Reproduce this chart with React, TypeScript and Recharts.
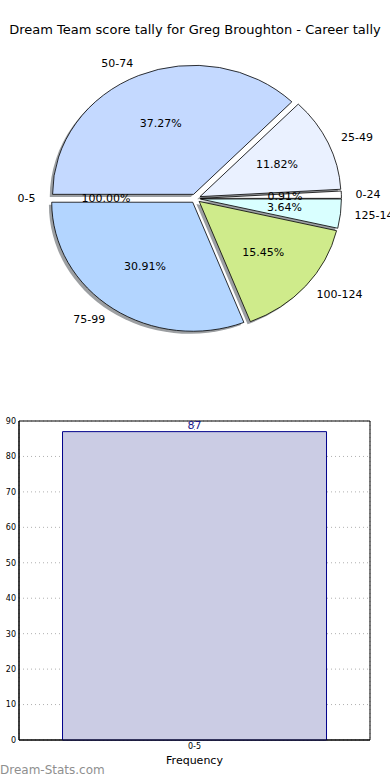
import React from "react"
import {
  PieChart,
  Pie,
  Sector,
  BarChart,
  Bar,
  XAxis,
  YAxis,
  CartesianGrid,
  LabelList,
  ReferenceArea,
} from "recharts"

const TITLE = "Dream Team score tally for Greg Broughton - Career tally"

// pie slices, counter-clockwise from 9 o'clock
const pieLabels = ["0-5", "75-99", "100-124", "125-149", "0-24", "25-49", "50-74"]
const pieCounts = [0, 34, 17, 4, 1, 13, 41]
const pieText = ["100.00%", "30.91%", "15.45%", "3.64%", "0.91%", "11.82%", "37.27%"]
const pieColors = ["#ffffff", "#b3d5ff", "#cfeb8b", "#d9ffff", "#ffffff", "#eaf1ff", "#c4d9ff"]

// frequency histogram
const barCategories = ["0-5"]
const barValues = [87]
const yTicks = [0, 10, 20, 30, 40, 50, 60, 70, 80, 90]

const FONT = "'DejaVu Sans', sans-serif"
const R = 141
const SQUASH = 0.915 // matplotlib pie without equal aspect -> ellipse
const EXPLODE = 0.035
const RAD = Math.PI / 180

const pieData = pieLabels.map((name, i) => ({ name, value: pieCounts[i] }))
const barData = barCategories.map((category, i) => ({ category, freq: barValues[i] }))

function polar(angle: number, k: number) {
  return { x: k * R * Math.cos(-angle * RAD), y: k * R * Math.sin(-angle * RAD) }
}

function squash(cy: number) {
  return `translate(0 ${cy * (1 - SQUASH)}) scale(1 ${SQUASH})`
}

function renderShadow(p: any) {
  if (p.endAngle === p.startAngle) return <g />
  const mid = (p.startAngle + p.endAngle) / 2
  const o = polar(mid, EXPLODE)
  return (
    <g transform={squash(p.cy)}>
      <Sector
        cx={p.cx + o.x - 2.8}
        cy={p.cy + o.y + 2.8}
        innerRadius={0}
        outerRadius={R}
        startAngle={p.startAngle}
        endAngle={p.endAngle}
        fill="#3a3f46"
        fillOpacity={0.5}
        stroke="none"
      />
    </g>
  )
}

function renderWedge(p: any) {
  if (p.endAngle === p.startAngle) return <g />
  const mid = (p.startAngle + p.endAngle) / 2
  const o = polar(mid, EXPLODE)
  return (
    <g transform={squash(p.cy)}>
      <Sector
        cx={p.cx + o.x}
        cy={p.cy + o.y}
        innerRadius={0}
        outerRadius={R}
        startAngle={p.startAngle}
        endAngle={p.endAngle}
        fill={pieColors[p.index]}
        stroke="#000"
        strokeWidth={0.8}
        vectorEffect="non-scaling-stroke"
      />
    </g>
  )
}

function renderText(p: any) {
  const i = p.index
  const mid = (p.startAngle + p.endAngle) / 2
  const o = polar(mid, EXPLODE)
  const l = polar(mid, 1.1)
  const q = polar(mid, 0.6)
  const toY = (dy: number) => p.cy + SQUASH * dy
  return (
    <g fontFamily={FONT} fontSize={11} fill="#000">
      <text
        x={p.cx + o.x + l.x}
        y={toY(o.y + l.y)}
        textAnchor={Math.cos(-mid * RAD) < 0 ? "end" : "start"}
        dominantBaseline="central"
      >
        {pieLabels[i]}
      </text>
      <text x={p.cx + o.x + q.x} y={toY(o.y + q.y)} textAnchor="middle" dominantBaseline="central">
        {pieText[i]}
      </text>
    </g>
  )
}

function ScorePie() {
  const common = {
    data: pieData,
    dataKey: "value",
    nameKey: "name",
    cx: 190.5,
    cy: 193.5,
    outerRadius: R,
    startAngle: 180,
    endAngle: 540,
    fill: "none",
    stroke: "none",
    labelLine: false,
    isAnimationActive: false,
  }
  return (
    <PieChart width={390} height={400}>
      <Pie {...common} label={renderShadow} />
      <Pie {...common} label={renderWedge} />
      <Pie {...common} label={renderText} />
    </PieChart>
  )
}

function FrequencyBars() {
  return (
    <BarChart
      width={390}
      height={380}
      data={barData}
      margin={{ top: 21, right: 20, bottom: 0, left: 0 }}
      barCategoryGap="12.4%"
    >
      <CartesianGrid stroke="#b0b0b0" strokeDasharray="1 3" />
      <XAxis
        dataKey="category"
        height={40}
        interval={0}
        tickLine={false}
        tickSize={2}
        tickMargin={1}
        axisLine={{ stroke: "#000" }}
        tick={{ fontSize: 8, fill: "#000", fontFamily: FONT }}
        label={{ value: "Frequency", position: "insideBottom", offset: 16, fontSize: 11, fill: "#000", fontFamily: FONT }}
      />
      <YAxis
        domain={[0, 90]}
        ticks={yTicks}
        width={19}
        interval={0}
        tickLine={false}
        tickSize={2}
        tickMargin={1}
        axisLine={{ stroke: "#000" }}
        tick={{ fontSize: 8, fill: "#000", fontFamily: FONT }}
      />
      <Bar dataKey="freq" fill="#cbcce4" stroke="#00008b" strokeWidth={1} isAnimationActive={false}>
        <LabelList dataKey="freq" position="top" offset={3} fill="#1a1a8c" fontSize={11} fontFamily={FONT} />
      </Bar>
      <ReferenceArea y1={0} y2={90} fill="none" stroke="#000" strokeWidth={1} fillOpacity={0} />
    </BarChart>
  )
}

export default function App() {
  return (
    <div style={{ position: "absolute", left: 0, top: 0, width: 390, height: 780, background: "#fff", fontFamily: FONT, overflow: "hidden" }}>
      <div style={{ position: "absolute", top: 22, left: 0, width: 390, textAlign: "center", fontSize: 13, lineHeight: "16px", color: "#000" }}>
        {TITLE}
      </div>
      <div style={{ position: "absolute", top: 0, left: 0 }}>
        <ScorePie />
      </div>
      <div style={{ position: "absolute", top: 400, left: 0 }}>
        <FrequencyBars />
      </div>
      <div style={{ position: "absolute", top: 763, left: 0, fontSize: 12, color: "#8f8f8f", lineHeight: "14px" }}>
        Dream-Stats.com
      </div>
    </div>
  )
}
